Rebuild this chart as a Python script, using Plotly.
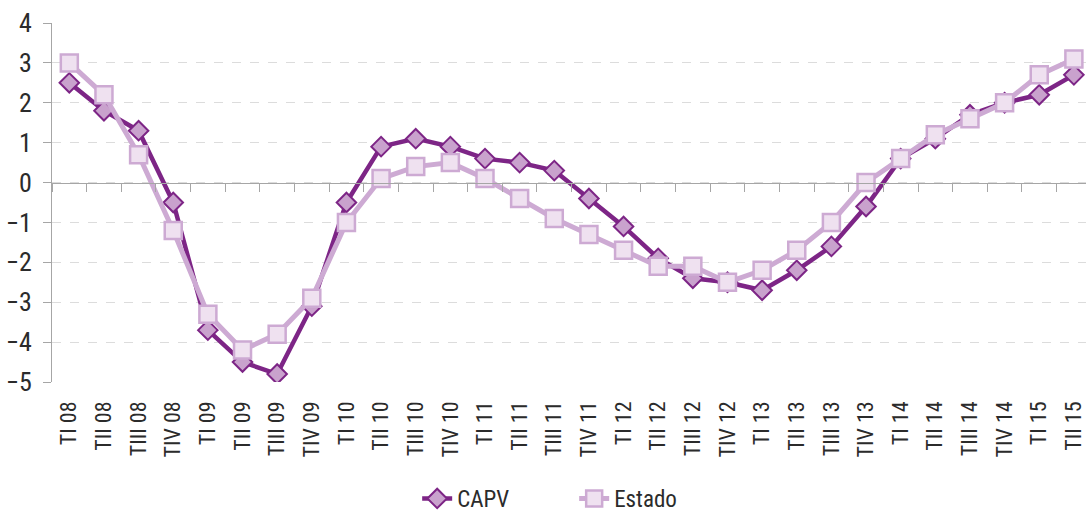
import plotly.graph_objects as go

# Quarterly labels
quarters = [
    "TI 08", "TII 08", "TIII 08", "TIV 08",
    "TI 09", "TII 09", "TIII 09", "TIV 09",
    "TI 10", "TII 10", "TIII 10", "TIV 10",
    "TI 11", "TII 11", "TIII 11", "TIV 11",
    "TI 12", "TII 12", "TIII 12", "TIV 12",
    "TI 13", "TII 13", "TIII 13", "TIV 13",
    "TI 14", "TII 14", "TIII 14", "TIV 14",
    "TI 15", "TII 15",
]

capv = [2.5, 1.8, 1.3, -0.5, -3.7, -4.5, -4.8, -3.1,
        -0.5, 0.9, 1.1, 0.9, 0.6, 0.5, 0.3, -0.4,
        -1.1, -1.9, -2.4, -2.5, -2.7, -2.2, -1.6, -0.6,
        0.6, 1.1, 1.7, 2.0, 2.2, 2.7]

estado = [3.0, 2.2, 0.7, -1.2, -3.3, -4.2, -3.8, -2.9,
          -1.0, 0.1, 0.4, 0.5, 0.1, -0.4, -0.9, -1.3,
          -1.7, -2.1, -2.1, -2.5, -2.2, -1.7, -1.0, 0.0,
          0.6, 1.2, 1.6, 2.0, 2.7, 3.1]

y_ticks = [-5, -4, -3, -2, -1, 0, 1, 2, 3, 4]

narrow = "Roboto Condensed, Roboto, sans-serif"
text_color = "#2b2b2b"
axis_grey = "#a6a6a6"
x_range = [-0.5, 29.35]
y_range = [-5, 4]

fig = go.Figure()

fig.add_trace(go.Scatter(
    x=quarters, y=capv, name="CAPV", mode="lines+markers",
    line=dict(color="#7d2586", width=4.5),
    marker=dict(symbol="diamond", size=15, color="#c9a2cd",
                line=dict(color="#7d2586", width=2)),
))

fig.add_trace(go.Scatter(
    x=quarters, y=estado, name="Estado", mode="lines+markers",
    line=dict(color="#cdaad3", width=5),
    marker=dict(symbol="square", size=17, color="#efe1f0",
                line=dict(color="#cdaad3", width=2.5)),
))

# Helper trace carrying the category axis drawn along y = 0
fig.add_trace(go.Scatter(
    x=quarters, y=[0] * len(quarters), xaxis="x2", mode="markers",
    marker=dict(opacity=0, size=1), showlegend=False, hoverinfo="skip",
))

fig.update_layout(
    width=1086, height=520,
    margin=dict(l=52, r=0, t=23, b=138, autoexpand=False),
    plot_bgcolor="white", paper_bgcolor="white",
    font=dict(family=narrow, color=text_color),
    showlegend=True,
    legend=dict(
        orientation="h", x=0.505, xanchor="center",
        yref="container", y=0.0, yanchor="bottom",
        font=dict(family=narrow, size=23, color=text_color),
        entrywidth=112, entrywidthmode="pixels",
    ),
    xaxis=dict(
        type="category", categoryorder="array", categoryarray=quarters,
        range=x_range, showgrid=False, showline=False, zeroline=False,
        ticks="", tickangle=-90, ticklabelstandoff=14, automargin=False,
        tickfont=dict(family=narrow, size=22, color=text_color),
    ),
    xaxis2=dict(
        type="category", categoryorder="array", categoryarray=quarters,
        range=x_range, overlaying="x", anchor="free",
        position=(0 - y_range[0]) / (y_range[1] - y_range[0]),
        side="bottom", showline=True, linecolor=axis_grey, linewidth=1,
        ticks="outside", tickson="boundaries", ticklen=8,
        tickcolor=axis_grey, showticklabels=False, showgrid=False,
        zeroline=False, automargin=False,
    ),
    yaxis=dict(
        range=y_range, tickvals=y_ticks, ticks="outside", ticklen=8,
        tickcolor=axis_grey, showline=True, linecolor=axis_grey,
        showgrid=True, gridcolor="#dcdcdc", griddash="dash", gridwidth=1,
        zeroline=False, ticklabelstandoff=6, automargin=False,
        tickfont=dict(family=narrow, size=26, color=text_color),
    ),
)

fig.write_html("out.html")
